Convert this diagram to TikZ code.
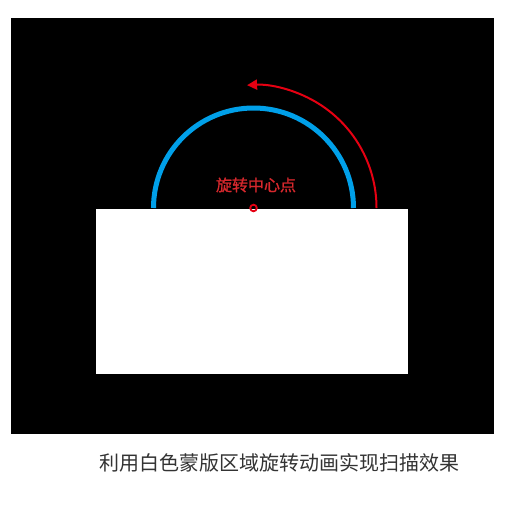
\documentclass[tikz,border=0pt]{standalone}
\usepackage{fontspec}
\newfontfamily\cjk{Noto Sans CJK SC}
\newfontfamily\cjkb[FakeBold=1.2]{Noto Sans CJK SC}
\usetikzlibrary{arrows.meta}
\definecolor{bluearc}{HTML}{00A0E9}
\definecolor{redarc}{HTML}{E60012}
\definecolor{redtxt}{HTML}{D7282D}
\definecolor{captxt}{HTML}{333333}
\begin{document}
\begin{tikzpicture}[x=1pt,y=-1pt,
  lbl/.style={inner sep=0pt,font=\cjkb\fontsize{16}{16}\selectfont,text=redtxt},
  captionstyle/.style={inner sep=0pt,font=\cjk\fontsize{20}{20}\selectfont,text=captxt}]
\useasboundingbox (0,0) rectangle (506,504);
\fill[white] (0,0) rectangle (506,504);
\fill[black] (11,18) rectangle (494,434);
\coordinate (c) at (253.5,208);
\draw[bluearc,line width=5pt] (153.5,208) arc[start angle=180,end angle=360,radius=100];
\draw[redarc,line width=2pt,-{Triangle[length=10pt,width=10pt]}] (376.5,208) arc[start angle=0,end angle=-93,radius=123];
\fill[white] (96,209) rectangle (408,374);
\draw[redarc,line width=1.8pt] (c) circle[radius=3.3];
\node[lbl] (t) at (256,185) {旋转中心点};
\node[captionstyle] (caption) at (279,463) {利用白色蒙版区域旋转动画实现扫描效果};
\end{tikzpicture}
\end{document}
